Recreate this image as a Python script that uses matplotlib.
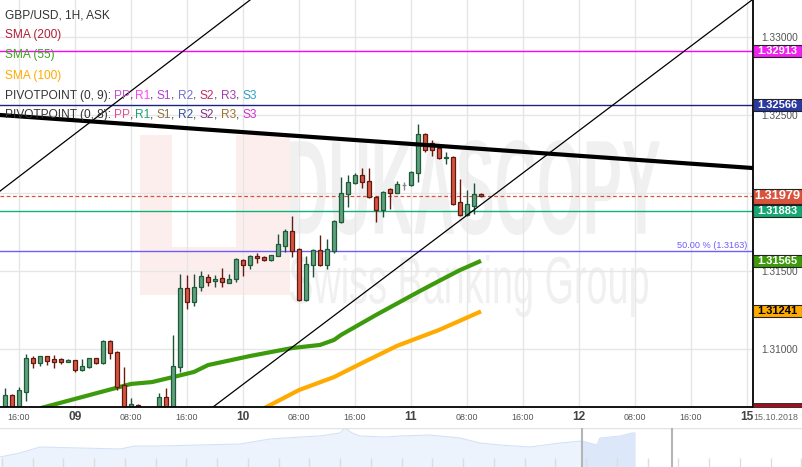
import numpy as np
import matplotlib
matplotlib.use("Agg")
import matplotlib.pyplot as plt
from matplotlib.patches import Rectangle, PathPatch
from matplotlib.textpath import TextPath
from matplotlib.font_manager import FontProperties
import matplotlib.transforms as mtrans

plt.rcParams['font.family'] = ['Liberation Sans', 'DejaVu Sans']

W, H = 803, 467

# ---------------- data ----------------
hours = list(range(-10, 59))
opens = [1.3058, 1.30705, 1.3060, 1.30724, 1.30942, 1.30910, 1.30955, 1.30936, 1.30936, 1.30917,
         1.30929, 1.30865, 1.30885, 1.30942, 1.30910, 1.31051, 1.30981, 1.30769, 1.30630, 1.30641,
         1.3060, 1.3056, 1.3058, 1.30692, 1.3060, 1.30885, 1.31391, 1.31301, 1.31397, 1.31461,
         1.31436, 1.31455, 1.31423, 1.31449, 1.31570, 1.31538, 1.31596, 1.31590, 1.31570, 1.31596,
         1.31660, 1.31756, 1.31641, 1.31315, 1.31538, 1.31635, 1.31538, 1.31628, 1.31814, 1.31993,
         1.32064, 1.32115, 1.32077, 1.31974, 1.31891, 1.32026, 1.32000, 1.32051, 1.32051, 1.32128,
         1.32378, 1.32320, 1.32288, 1.32224, 1.32231, 1.31942, 1.31859, 1.31916, 1.31993]
highs = [1.30750, 1.30710, 1.30756, 1.30968, 1.30955, 1.30958, 1.30958, 1.30961, 1.30940, 1.30936,
         1.30932, 1.30936, 1.30942, 1.30945, 1.31058, 1.31055, 1.30984, 1.30885, 1.30686, 1.30645,
         1.30615, 1.30610, 1.30718, 1.30750, 1.31090, 1.31481, 1.31474, 1.31481, 1.31500, 1.31481,
         1.31474, 1.31519, 1.31481, 1.31583, 1.31575, 1.31600, 1.31615, 1.31593, 1.31605, 1.31737,
         1.31769, 1.31852, 1.31645, 1.31596, 1.31640, 1.31731, 1.31704, 1.31825, 1.32102, 1.32115,
         1.32128, 1.32160, 1.32160, 1.31978, 1.32010, 1.32030, 1.32077, 1.32071, 1.32138, 1.32442,
         1.32384, 1.32340, 1.32292, 1.32263, 1.32235, 1.32090, 1.32019, 1.32064, 1.32000]
lows = [1.3055, 1.3055, 1.3057, 1.30667, 1.30878, 1.30891, 1.30897, 1.30878, 1.30904, 1.30914,
        1.30853, 1.30862, 1.30878, 1.30907, 1.30907, 1.30936, 1.30737, 1.3058, 1.3060, 1.3058,
        1.3054, 1.3052, 1.3055, 1.3057, 1.3058, 1.30853, 1.31256, 1.31276, 1.31372, 1.31404,
        1.31397, 1.31397, 1.31420, 1.31429, 1.31468, 1.31513, 1.31551, 1.31567, 1.31567, 1.31593,
        1.31622, 1.31590, 1.31305, 1.31305, 1.31461, 1.31532, 1.31513, 1.31615, 1.31810, 1.31910,
        1.32060, 1.32032, 1.31970, 1.31814, 1.31846, 1.31897, 1.31997, 1.32019, 1.32048, 1.32071,
        1.32263, 1.32237, 1.32220, 1.32186, 1.31925, 1.31853, 1.31855, 1.31865, 1.31976]
closes = [1.30705, 1.3060, 1.30737, 1.30942, 1.30910, 1.30955, 1.30923, 1.30917, 1.30917, 1.30929,
          1.30865, 1.30891, 1.30942, 1.30910, 1.31051, 1.30974, 1.30756, 1.3060, 1.30645, 1.3060,
          1.3056, 1.3058, 1.30692, 1.3060, 1.30891, 1.31391, 1.31301, 1.31397, 1.31468, 1.31429,
          1.31449, 1.31429, 1.31449, 1.31577, 1.31538, 1.31596, 1.31583, 1.31570, 1.31602, 1.31673,
          1.31756, 1.31628, 1.31315, 1.31545, 1.31635, 1.31538, 1.31641, 1.31820, 1.32000, 1.32071,
          1.32115, 1.32071, 1.31974, 1.31891, 1.32006, 1.32000, 1.32058, 1.32051, 1.32134, 1.32378,
          1.32276, 1.32276, 1.32224, 1.32231, 1.31929, 1.31859, 1.31929, 1.31993, 1.31979]

sma55_hours = [-5, 8, 11, 14, 17, 19, 25, 31, 35, 37, 38, 43, 49, 52, 55, 58]
sma55_values = [1.30620, 1.30776, 1.30788, 1.30820, 1.30853, 1.30897, 1.30955, 1.31006, 1.31026,
                1.31058, 1.31090, 1.31218, 1.31365, 1.31436, 1.31506, 1.31565]
sma100_hours = [27, 32, 37, 41, 46, 52, 58]
sma100_values = [1.30620, 1.30737, 1.30820, 1.30910, 1.31020, 1.31122, 1.31241]

level_prices = [1.32913, 1.32566, 1.31979, 1.31883, 1.3163]
fib_label = "50.00 % (1.3163)"
price_ticks = [1.310, 1.315, 1.320, 1.325, 1.330]
time_tick_hours = [-8, 0, 8, 16, 24, 32, 40, 48, 56, 64, 72, 80, 88, 96]
time_tick_labels = ["16:00", "09", "08:00", "16:00", "10", "08:00", "16:00", "11",
                    "08:00", "16:00", "12", "08:00", "16:00", "15"]
date_label = "15.10.2018"
trend_thick = ((-10.714, 1.32500), (96.857, 1.32160))
channel_upper = ((0.714, 1.32404), (25.0, 1.33237))
channel_lower = ((19.71, 1.30628), (96.14, 1.33218))

nav_t = [0, 20, 40, 80, 120, 135, 160, 200, 240, 270, 300, 320, 340, 345, 352, 360, 385, 400,
         430, 460, 480, 500, 530, 560, 582, 597, 600, 620, 632, 635]
nav_v = [10, 14, 20, 19, 18, 21, 21, 22, 23, 28, 30, 31, 34, 39, 34, 31, 30, 31,
         32, 29, 24, 22, 20, 24, 26, 22, 29, 31, 34, 34]

# ---------------- figure ----------------
fig = plt.figure(figsize=(W / 100, H / 100), dpi=100)
fig.patch.set_facecolor('white')
T_px = mtrans.Affine2D().scale(1.0 / W, -1.0 / H).translate(0, 1) + fig.transFigure

ax = fig.add_axes([0, (H - 407) / H, 753 / W, 407 / H])
ax.set_xlim(-75 / 7.0, 678 / 7.0)
ax.set_ylim(1.33 - (407 - 37) / 15600.0, 1.33 + 37 / 15600.0)
ax.set_facecolor('white')
for s in ['top', 'left']:
    ax.spines[s].set_visible(False)
for s in ['right', 'bottom']:
    ax.spines[s].set_color('black')
    ax.spines[s].set_linewidth(1.3)
    ax.spines[s].set_zorder(10)

ax.set_axisbelow(True)
ax.set_xticks(time_tick_hours)
ax.set_xticklabels([])
ax.yaxis.tick_right()
ax.set_yticks(price_ticks)
ax.set_yticklabels(["%.5f" % v for v in price_ticks], color='#555555', fontsize=7.3)
ax.tick_params(axis='both', length=0)
ax.tick_params(axis='y', pad=6)
ax.grid(True, color='#e6e6e6', lw=1.0)

# ---- watermark ----
wm_col = '#f0f0f0'
ax.add_patch(Rectangle((140, 135), 150, 160, transform=T_px, facecolor='#fdeeee',
                       edgecolor='none', zorder=0.2))
ax.add_patch(Rectangle((172, 135), 64, 112, transform=T_px, facecolor='white',
                       edgecolor='none', zorder=0.25))


def fitted_text(s, box, weight, color):
    x0, y0, w, h = box
    tp = TextPath((0, 0), s, size=1, prop=FontProperties(family='Liberation Sans', weight=weight))
    ext = tp.get_extents()
    sx = w / ext.width
    sy = h / ext.height
    tr = (mtrans.Affine2D().translate(-ext.x0, -ext.y0).scale(sx, -sy)
          .translate(x0, y0 + h) + T_px)
    ax.add_patch(PathPatch(tp, transform=tr, facecolor=color, edgecolor='none', zorder=0.3))


fitted_text("DUKASCOPY", (290, 140, 370, 95), 'bold', wm_col)
fitted_text("Swiss Banking Group", (290, 255, 358, 62), 'normal', wm_col)

# ---- horizontal level lines ----
ax.axhline(level_prices[0], color='#ff00ff', lw=1.0, zorder=2)
ax.axhline(level_prices[1], color='#1a237e', lw=1.0, zorder=2)
ax.axhline(level_prices[2], color='#d9533c', lw=0.9, ls=(0, (3, 2)), zorder=2)
ax.axhline(level_prices[3], color='#12b07a', lw=1.0, zorder=2)
ax.axhline(level_prices[4], color='#6f5cff', lw=1.0, zorder=2)
ax.text(96.1, level_prices[4] + 0.00005, fib_label, color='#6f5cff', fontsize=6.6,
        ha='right', va='bottom', zorder=2)

# ---- SMA lines ----
ax.plot(sma55_hours, sma55_values, color='#3c9a0c', lw=3.0, zorder=3, solid_capstyle='butt')
ax.plot(sma100_hours, sma100_values, color='#ffaa00', lw=3.0, zorder=3, solid_capstyle='butt')

# ---- candles ----
for h, o, hi, lo, c in zip(hours, opens, highs, lows, closes):
    if c > o:
        body, edge, wick = '#5fa07d', '#1f5a3a', '#1d5236'
    elif c < o:
        body, edge, wick = '#d9533f', '#5c1a10', '#6b1a12'
    else:
        body, edge, wick = '#999999', '#888888', '#888888'
    ax.vlines(h, lo, hi, color=wick, lw=1.0, zorder=4)
    bh = max(abs(c - o), 0.00003)
    ax.bar(h, bh, bottom=min(o, c), width=0.68, color=body, edgecolor=edge, lw=0.9, zorder=5)

# ---- trend lines ----
ax.axline(trend_thick[0], trend_thick[1], color='black', lw=3.0, zorder=6)
ax.axline(channel_upper[0], channel_upper[1], color='black', lw=0.9, zorder=6)
ax.axline(channel_lower[0], channel_lower[1], color='black', lw=0.9, zorder=6)

# ---- time labels ----
xt = mtrans.blended_transform_factory(ax.transData, T_px)
for hh, lab in zip(time_tick_hours, time_tick_labels):
    if ':' in lab:
        ax.text(hh, 417.5, lab, transform=xt, ha='center', va='center', fontsize=6.4,
                color='#555555', clip_on=False)
    else:
        ax.text(hh, 417.5, lab, transform=xt, ha='center', va='center', fontsize=8.6,
                color='#444444', weight='bold', clip_on=False)
fig.text(776, 417.5, date_label, transform=T_px, ha='center', va='center', fontsize=6.4,
         color='#666666')

# ---- right price boxes ----
bt = mtrans.blended_transform_factory(T_px, ax.transData)
box_specs = [
    (level_prices[0], '#f020f0', 'white', 12, 8.0),
    (level_prices[1], '#2a3a9e', 'white', 12, 8.0),
    (level_prices[3], '#16a874', 'white', 12, 8.0),
    (sma55_values[-1], '#3d9a0c', 'white', 12, 8.0),
    (sma100_values[-1], '#ffaa00', 'black', 12, 8.0),
    (level_prices[2], '#d9533c', 'white', 15, 9.2),
]
for price, fc, tc, hpx, fs in box_specs:
    hd = hpx / 15600.0
    fig.add_artist(Rectangle((753, price - hd / 2), 49, hd, transform=bt, facecolor=fc,
                             edgecolor='#222222', lw=0.8, zorder=20))
    fig.text(777.5, price, "%.5f" % price, transform=bt, ha='center', va='center',
             fontsize=fs, color=tc, weight='bold', zorder=21)
# SMA200 label box (cut at the axis bottom)
ylo = ax.get_ylim()[0]
fig.add_artist(Rectangle((753, ylo), 49, 4 / 15600.0, transform=bt, facecolor='#a0101c',
                         edgecolor='#222222', lw=0.6, zorder=20))

# ---- legend texts ----
renderer = fig.canvas.get_renderer()


def twidth(s, fs):
    t = fig.text(0, 0, s + "l", fontsize=fs)
    w1 = t.get_window_extent(renderer=renderer).width
    t.set_text("l")
    w2 = t.get_window_extent(renderer=renderer).width
    t.remove()
    return w1 - w2


LFS = 8.6
dark = '#333333'
legend_lines = [
    (15, [("GBP/USD, 1H, ASK", dark)]),
    (35, [("SMA (200)", '#b0203a')]),
    (55, [("SMA (55)", '#40a020')]),
    (76, [("SMA (100)", '#ffaa00')]),
    (96, [("PIVOTPOINT (0, 9): ", dark), ("PP", '#c050d0'), (", ", dark), ("R1", '#ff40ff'),
          (", ", dark), ("S1", '#b040d0'), (", ", dark), ("R2", '#7070d0'), (", ", dark),
          ("S2", '#c03060'), (", ", dark), ("R3", '#a040b0'), (", ", dark), ("S3", '#30a0c0')]),
    (115, [("PIVOTPOINT (0, 8): ", dark), ("PP", '#e05090'), (", ", dark), ("R1", '#20a070'),
           (", ", dark), ("S1", '#907040'), (", ", dark), ("R2", '#3050a0'), (", ", dark),
           ("S2", '#803080'), (", ", dark), ("R3", '#a07030'), (", ", dark), ("S3", '#d030d0')]),
]
for ypx, parts in legend_lines:
    prefix = ""
    for s, col in parts:
        x = 5 + (twidth(prefix, LFS) if prefix else 0)
        fig.text(x, ypx, s, transform=T_px, fontsize=LFS, color=col, ha='left', va='center',
                 zorder=15)
        prefix += s

# ---- navigator ----
axn = fig.add_axes([0, 0, 1, 39 / H])
axn.set_xlim(0, W)
axn.set_ylim(0, 39)
axn.axis('off')
axn.fill_between(nav_t, 0, nav_v, color='#edf3fc', lw=0)
axn.plot(nav_t, nav_v, color='#d3e2f7', lw=0.8)
nt = np.array(nav_t)
nv = np.array(nav_v)
sel = nt >= 582
axn.fill_between(nt[sel], 0, nv[sel], color='#dce8fa', lw=0)
for xx in np.arange(2, W, 30.75):
    axn.vlines(xx, 0, 9, color='#dddddd', lw=1.0)
axn.axhline(38.6, color='#e2e2e2', lw=1.0)
axn.vlines([582, 672], 0, 39, color='#b5b5b5', lw=1.5)

fig.savefig("out.png", dpi=100, facecolor='white')
